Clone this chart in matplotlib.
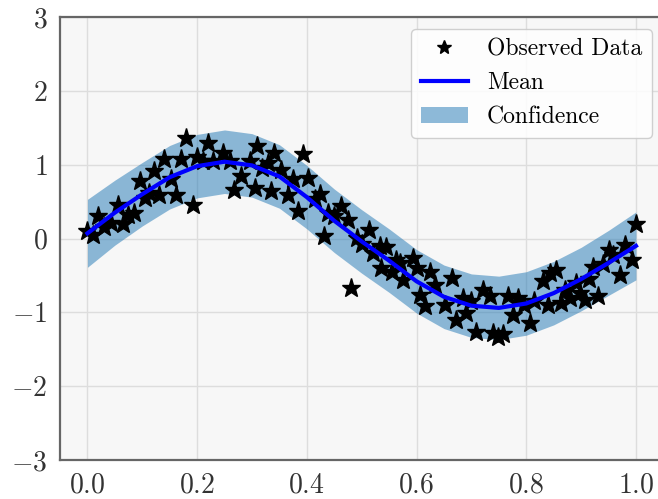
import matplotlib
matplotlib.use('Agg')
import matplotlib.pyplot as plt
from matplotlib.lines import Line2D
from matplotlib.patches import Patch

plt.rcParams.update({
    'font.family': 'serif',
    'font.serif': ['cmr10', 'DejaVu Serif'],
    'mathtext.fontset': 'cm',
    'axes.formatter.use_mathtext': True,
})

obs_x = [0.0, 0.01, 0.019, 0.03, 0.043, 0.055, 0.065, 0.074, 0.085, 0.095,
         0.105, 0.113, 0.122, 0.131, 0.14, 0.153, 0.162, 0.171, 0.18, 0.192,
         0.20, 0.21, 0.22, 0.229, 0.247, 0.259, 0.268, 0.28, 0.296, 0.305,
         0.31, 0.318, 0.329, 0.335, 0.341, 0.353, 0.366, 0.375, 0.384, 0.393,
         0.402, 0.414, 0.424, 0.432, 0.438, 0.45, 0.463, 0.475, 0.48, 0.492,
         0.50, 0.514, 0.52, 0.533, 0.536, 0.545, 0.555, 0.563, 0.569, 0.575,
         0.594, 0.60, 0.606, 0.615, 0.625, 0.633, 0.651, 0.664, 0.672, 0.684,
         0.69, 0.70, 0.709, 0.721, 0.734, 0.74, 0.749, 0.757, 0.767, 0.776,
         0.785, 0.795, 0.807, 0.815, 0.831, 0.84, 0.843, 0.855, 0.864, 0.87,
         0.88, 0.89, 0.898, 0.907, 0.915, 0.922, 0.931, 0.94, 0.95, 0.959,
         0.971, 0.98, 0.992, 1.0]
obs_y = [0.10, 0.05, 0.31, 0.15, 0.21, 0.46, 0.20, 0.32, 0.35, 0.775,
         0.55, 0.62, 0.91, 0.594, 1.07, 0.80, 0.594, 1.07, 1.36, 0.46,
         1.11, 1.05, 1.30, 1.05, 1.16, 1.05, 0.66, 0.84, 1.05, 0.685,
         1.25, 0.95, 1.02, 0.64, 1.16, 0.93, 0.594, 0.80, 0.37, 1.14,
         0.82, 0.53, 0.60, 0.03, 0.35, 0.30, 0.44, 0.255, -0.67, 0.007,
         -0.08, 0.12, -0.20, -0.107, -0.40, -0.11, -0.45, -0.29, -0.33, -0.56,
         -0.265, -0.40, -0.76, -0.92, -0.45, -0.63, -0.90, -0.54, -1.10, -0.81,
         -1.01, -0.85, -1.26, -0.695, -0.785, -1.28, -1.33, -1.30, -0.785, -1.03,
         -0.81, -0.90, -1.15, -0.85, -0.58, -0.90, -0.47, -0.42, -0.875, -0.70,
         -0.81, -0.60, -0.74, -0.83, -0.55, -0.38, -0.785, -0.35, -0.15, -0.22,
         -0.49, -0.084, -0.29, 0.19]

# Predictive mean and confidence region
mean_x = [0.0, 0.05, 0.10, 0.15, 0.20, 0.25, 0.30, 0.35, 0.40, 0.45, 0.50,
          0.55, 0.60, 0.65, 0.70, 0.75, 0.80, 0.85, 0.90, 0.95, 1.0]
mean_y = [0.07, 0.35, 0.60, 0.83, 0.98, 1.04, 0.99, 0.84, 0.56, 0.24, -0.04,
          -0.30, -0.58, -0.79, -0.91, -0.94, -0.88, -0.74, -0.55, -0.33, -0.10]
lower = [-0.39, -0.09, 0.17, 0.40, 0.55, 0.61, 0.56, 0.41, 0.13, -0.19, -0.47,
         -0.73, -1.01, -1.22, -1.34, -1.37, -1.31, -1.17, -0.98, -0.77, -0.56]
upper = [0.53, 0.79, 1.03, 1.26, 1.41, 1.47, 1.42, 1.27, 0.99, 0.67, 0.39,
         0.13, -0.15, -0.36, -0.48, -0.51, -0.45, -0.31, -0.12, 0.11, 0.36]

x_ticks = [0.0, 0.2, 0.4, 0.6, 0.8, 1.0]
y_ticks = [-3, -2, -1, 0, 1, 2, 3]

fig = plt.figure(figsize=(6.58, 4.99), dpi=100)
ax = fig.add_axes([60 / 658, 39 / 499, 603.4 / 658, 443 / 499])
ax.set_facecolor('#f7f7f7')
ax.grid(True, color='#dddddd', lw=1.0)
ax.set_axisbelow(True)

band_color = '#1f77b4'
ax.fill_between(mean_x, lower, upper, color=band_color, alpha=0.5, lw=0, zorder=1)
ax.plot(obs_x, obs_y, 'k*', ms=14, zorder=3)
ax.plot(mean_x, mean_y, color='#0000ff', lw=3, zorder=4)

ax.set_xlim(-0.05, 1.05)
ax.set_ylim(-3, 3)
ax.set_xticks(x_ticks)
ax.set_yticks(y_ticks)
ax.tick_params(length=0, labelsize=20, labelcolor='#333333', pad=9)
for s in ax.spines.values():
    s.set_color('#666666')
    s.set_linewidth(1.6)

handles = [
    Line2D([], [], color='k', marker='*', ls='none', ms=14),
    Line2D([], [], color='#0000ff', lw=3),
    Patch(facecolor=band_color, alpha=0.5, edgecolor='none'),
]
ax.legend(handles, ['Observed Data', 'Mean', 'Confidence'], loc='upper right',
          fontsize=17, markerscale=0.75, framealpha=0.85, edgecolor='#c8c8c8')

fig.savefig('out.png', dpi=100)
